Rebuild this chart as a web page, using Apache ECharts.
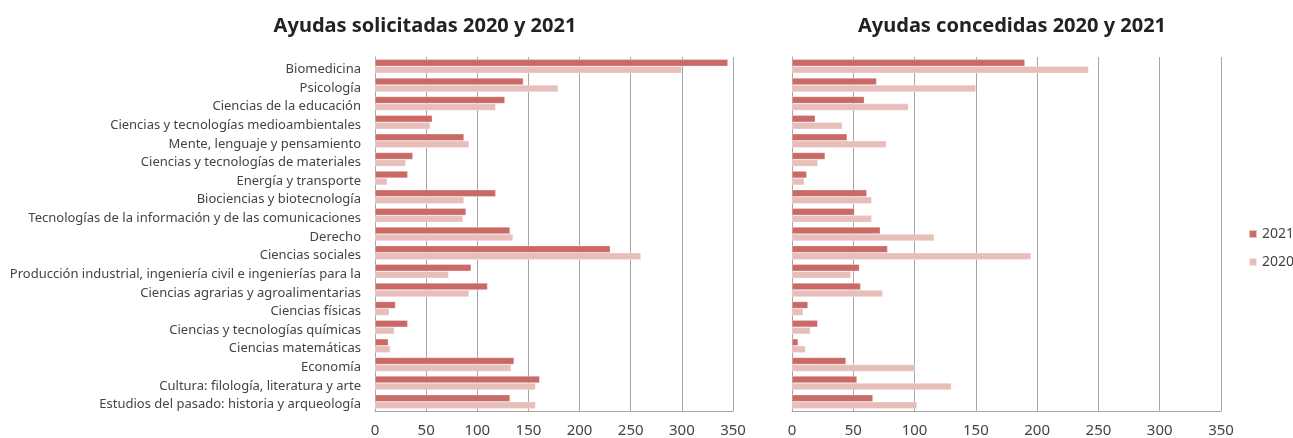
<!DOCTYPE html>
<html><head><meta charset="utf-8">
<script src="https://cdn.jsdelivr.net/npm/echarts@6/dist/echarts.min.js"></script>
<style>html,body{margin:0;padding:0;background:#fff}#c{width:1293px;height:438px}</style>
</head><body><div id="c"></div>
<script>
const categories = ["Biomedicina","Psicología","Ciencias de la educación","Ciencias y tecnologías medioambientales","Mente, lenguaje y pensamiento","Ciencias y tecnologías de materiales","Energía y transporte","Biociencias y biotecnología","Tecnologías de la información y de las comunicaciones","Derecho","Ciencias sociales","Producción industrial, ingeniería civil e ingenierías para la","Ciencias agrarias y agroalimentarias","Ciencias físicas","Ciencias y tecnologías químicas","Ciencias matemáticas","Economía","Cultura: filología, literatura y arte","Estudios del pasado: historia y arqueología"];
const solicitadas2021 = [345,145,127,56,87,37,32,118,89,132,230,94,110,20,32,13,136,161,132];
const solicitadas2020 = [300,179,118,54,92,30,12,87,86,135,260,72,92,14,19,15,133,157,157];
const concedidas2021 = [190,69,59,19,45,27,12,61,51,72,78,55,56,13,21,5,44,53,66];
const concedidas2020 = [242,150,95,41,77,21,10,65,65,116,195,48,74,9,15,11,100,130,102];
const seriesNames = ["2021","2020"];
const xTicks = {min:0, max:350, interval:50};

const C21 = '#c96a66', C20 = '#e8bebb';
const FONT = "'Noto Sans', sans-serif";
const chart = echarts.init(document.getElementById('c'), null, {renderer:'canvas'});
const gridLine = {show:true, lineStyle:{color:'#a6a6a6', width:1}};
function xAxis(gi){
  return {type:'value', gridIndex:gi, min:xTicks.min, max:xTicks.max, interval:xTicks.interval,
    axisLine:{show:true, lineStyle:{color:'#a6a6a6'}}, axisTick:{show:false},
    splitLine:gridLine,
    axisLabel:{color:'#444', fontSize:15, fontFamily:FONT, margin:12}};
}
function yAxis(gi, showLabels){
  return {type:'category', gridIndex:gi, data:categories, inverse:true,
    axisLine:{show:true, lineStyle:{color:'#a6a6a6'}}, axisTick:{show:false},
    axisLabel:{show:showLabels, color:'#444', fontSize:13, fontFamily:FONT, margin:14, interval:0,
      verticalAlign:'top', lineHeight:6}};
}
function bar(name, data, color, gi){
  return {type:'bar', name, data, xAxisIndex:gi, yAxisIndex:gi, barWidth:7, barGap:'0%',
    itemStyle:{color, borderColor:'rgba(255,255,255,0.6)', borderWidth:0.5}};
}
chart.setOption({
  animation:false,
  textStyle:{fontFamily:FONT},
  title:[
    {text:'Ayudas solicitadas 2020 y 2021', left:420, top:11, textAlign:'center',
     textStyle:{fontSize:20, fontWeight:'bold', color:'#222', fontFamily:FONT}},
    {text:'Ayudas concedidas 2020 y 2021', left:1007, top:11, textAlign:'center',
     textStyle:{fontSize:20, fontWeight:'bold', color:'#222', fontFamily:FONT}}
  ],
  legend:{orient:'vertical', left:1243, top:222, itemWidth:8, itemHeight:8, itemGap:14,
    icon:'rect', data:seriesNames, textStyle:{color:'#444', fontSize:14, fontFamily:FONT}},
  grid:[
    {left:375, right:560, top:57, bottom:24, containLabel:false},
    {left:792, right:72, top:57, bottom:24, containLabel:false}
  ],
  xAxis:[xAxis(0), xAxis(1)],
  yAxis:[yAxis(0,true), yAxis(1,false)],
  series:[
    bar(seriesNames[0], solicitadas2021, C21, 0),
    bar(seriesNames[1], solicitadas2020, C20, 0),
    bar(seriesNames[0], concedidas2021, C21, 1),
    bar(seriesNames[1], concedidas2020, C20, 1)
  ]
});
</script></body></html>
